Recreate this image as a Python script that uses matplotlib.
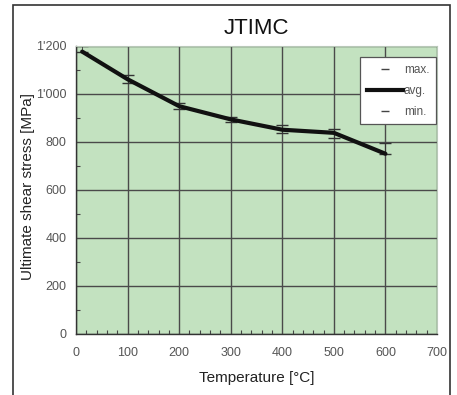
import matplotlib
matplotlib.use("Agg")
import matplotlib.pyplot as plt
from matplotlib.patches import Rectangle
from matplotlib.lines import Line2D
from matplotlib.ticker import MultipleLocator, FuncFormatter

plt.rcParams['font.family'] = ['Liberation Sans', 'DejaVu Sans']

temps = [12, 100, 200, 300, 400, 500, 600]
avg_vals = [1175, 1060, 948, 893, 850, 837, 750]
max_vals = [1200, 1078, 962, 904, 870, 853, 794]
min_vals = [1172, 1046, 936, 881, 838, 817, 748]

title = "JTIMC"
xlabel = "Temperature [°C]"
ylabel = "Ultimate shear stress [MPa]"
legend_labels = ["max.", "avg.", "min."]

fig = plt.figure(figsize=(4.57, 3.95), dpi=100)
fig.patch.set_facecolor("white")

# outer frame
fig.add_artist(Rectangle((13/457, -0.01), (450-13)/457, 1 - 5/395 + 0.01,
                         transform=fig.transFigure, fill=False,
                         edgecolor="#333333", linewidth=1.2))

ax = fig.add_axes([76/457, 1-334/395, (437-76)/457, (334-45.6)/395])
ax.set_facecolor("#c3e2c0")
ax.set_xlim(0, 700)
ax.set_ylim(0, 1200)

ax.xaxis.set_major_locator(MultipleLocator(100))
ax.xaxis.set_minor_locator(MultipleLocator(20))
ax.yaxis.set_major_locator(MultipleLocator(200))
ax.yaxis.set_minor_locator(MultipleLocator(100))

def fmt(v, pos):
    v = int(round(v))
    if v >= 1000:
        return f"{v//1000}'{v%1000:03d}"
    return str(v)
ax.yaxis.set_major_formatter(FuncFormatter(fmt))

ax.grid(True, which="major", color="#4a4a4a", linewidth=1.0)
ax.set_axisbelow(True)
ax.tick_params(which="both", direction="in", colors="#444444", labelcolor="#555555",
               labelsize=9, length=3, width=0.8)
ax.tick_params(which="major", length=0)
ax.tick_params(axis="y", which="major", pad=7)
ax.tick_params(axis="x", which="major", pad=9)

for side in ["left", "bottom"]:
    ax.spines[side].set_color("#333333")
    ax.spines[side].set_linewidth(1.0)
for side in ["top", "right"]:
    ax.spines[side].set_color("#b8c8b8")
    ax.spines[side].set_linewidth(0.8)

# error caps
ax.vlines(temps, min_vals, max_vals, color="#333333", linewidth=0.6)
ax.plot(temps, max_vals, linestyle="none", marker="_", markersize=8,
        color="#333333", markeredgewidth=1.0)
ax.plot(temps, min_vals, linestyle="none", marker="_", markersize=8,
        color="#333333", markeredgewidth=1.0)
ax.plot(temps, avg_vals, color="#111111", linewidth=3.0, solid_capstyle="round",
        solid_joinstyle="round")

handles = [
    Line2D([], [], linestyle="none", marker="_", markersize=6, color="#444444"),
    Line2D([], [], color="#111111", linewidth=3),
    Line2D([], [], linestyle="none", marker="_", markersize=6, color="#444444"),
]
leg = ax.legend(handles, legend_labels, loc="upper right", bbox_to_anchor=(1.0, 0.963),
                fontsize=8.5, frameon=True, fancybox=False, handlelength=3.1,
                handletextpad=0.05, labelspacing=0.75, borderpad=0.55,
                borderaxespad=0.1, markerfirst=True)
leg.get_frame().set_edgecolor("#555555")
leg.get_frame().set_linewidth(0.9)
leg.get_frame().set_facecolor("white")
leg.get_frame().set_alpha(1)
for t in leg.get_texts():
    t.set_color("#555555")

fig.text(0.5 * (76+437) / 457, 1 - 29/395, title, ha="center", va="center",
         fontsize=16, color="#111111")
fig.text(0.5 * (76+437) / 457, 1 - 378/395, xlabel, ha="center", va="center",
         fontsize=11, color="#222222")
fig.text(28/457, 1 - 187/395, ylabel, ha="center", va="center", rotation=90,
         fontsize=11, color="#222222")

fig.savefig("out.png", dpi=100)
